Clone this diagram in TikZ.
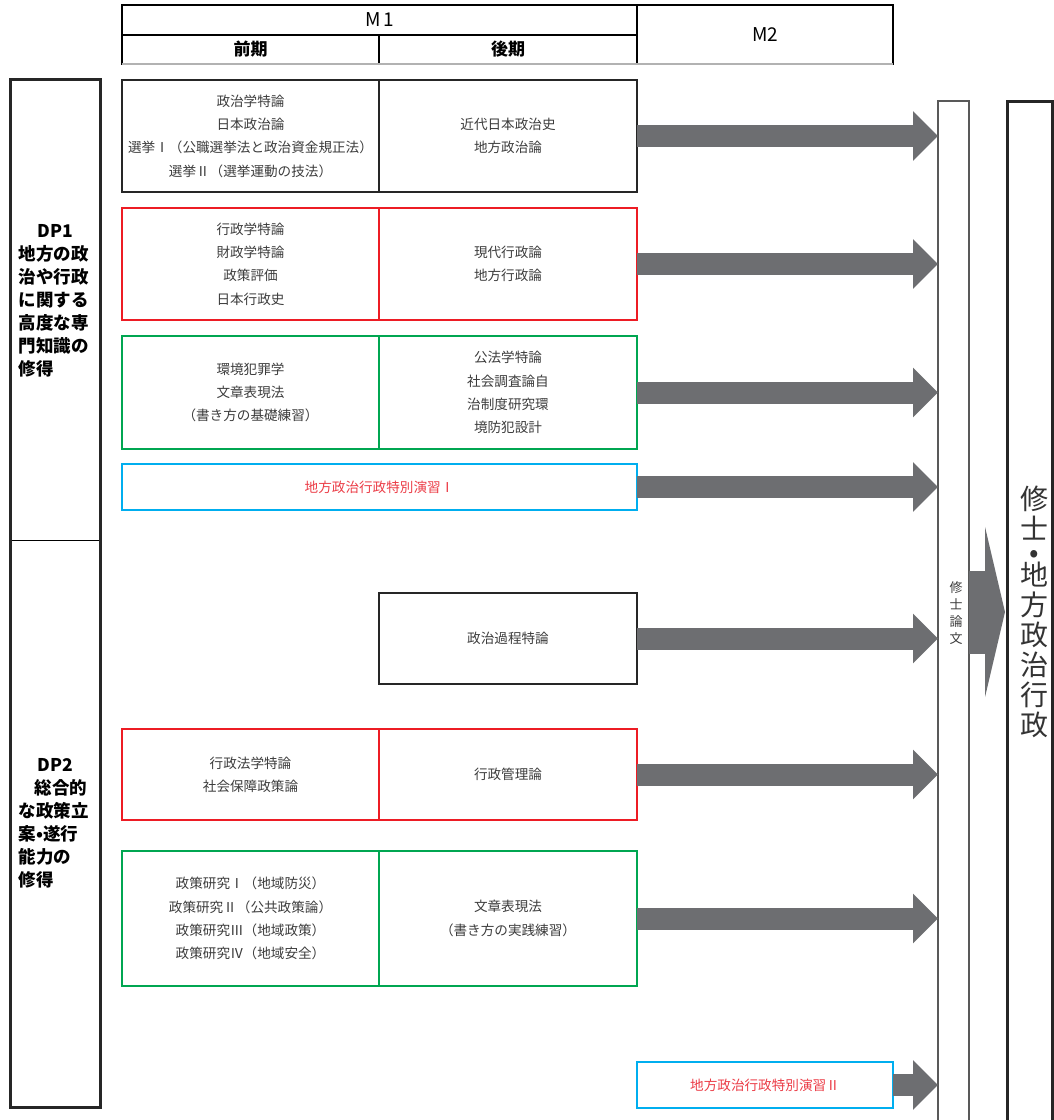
\documentclass[tikz,border=0pt]{standalone}
\usepackage{fontspec}
\setmainfont{Noto Sans CJK JP}
\usetikzlibrary{arrows.meta}
\definecolor{cred}{RGB}{237,28,36}
\definecolor{cgreen}{RGB}{0,166,81}
\definecolor{cblue}{RGB}{0,174,239}
\definecolor{cgray}{RGB}{109,110,113}
\definecolor{ctext}{RGB}{60,60,60}
\definecolor{credtext}{RGB}{235,60,70}
\tikzset{
  cell/.style={draw,line width=2pt,outer sep=0pt,inner sep=0pt,anchor=north west,
    align=center,text=ctext,font=\fontsize{13.6}{23.3}\selectfont},
  head/.style={draw,line width=1.6pt,outer sep=0pt,inner sep=0pt,anchor=north west,
    font=\fontsize{19}{22}\selectfont},
  dpbox/.style={draw,line width=1pt,outer sep=0pt,inner sep=0pt,anchor=north west,minimum width=90pt},
  dptext/.style={align=left,text width=72pt,inner sep=0pt,font=\bfseries\fontsize{17.5}{23}\selectfont},
  flow/.style={cgray,line width=22pt,-{Triangle[length=25pt,width=48pt]}},
}

\begin{document}
\begin{tikzpicture}[x=1pt,y=-1pt]
  \useasboundingbox (0,0) rectangle (1054,1120);
  % header
  \node[head,minimum width=515pt,minimum height=30pt] (m1) at (122,5) {M\hspace{3pt}1};
  \node[head,minimum width=257pt,minimum height=29pt,font=\bfseries\fontsize{17}{20}\selectfont] (early) at (122,35) {前期};
  \node[head,minimum width=258pt,minimum height=29pt,font=\bfseries\fontsize{17}{20}\selectfont] (late) at (379,35) {後期};
  \node[head,minimum width=256pt,minimum height=59pt] (m2) at (637,5) {M2};
  \draw[line width=2.6pt] (m1.north west) -- (m2.north east);
  \draw[black!30,line width=1.6pt] (early.south west) -- (m2.south east);

  % DP column
  \node[dpbox,minimum height=461pt] (dpA) at (10,79) {};
  \node[dpbox,minimum height=567pt] (dpB) at (10,540) {};
  \draw[line width=3pt,black!85] (dpA.north west) rectangle (dpB.south east);
  \node[dptext] (dp1) at (55,301) {\makebox[72pt]{DP1}\\地方の政\\治や行政\\に関する\\高度な専\\門知識の\\修得};
  \node[dptext] (dp2) at (55,823) {\makebox[72pt]{DP2}\\\hspace*{0.9em}総合的\\な政策立\\案•遂行\\能力の\\修得};

  % courses
  \node[cell,draw=black!85,line width=2.4pt,minimum width=257pt,minimum height=112pt] (polA) at (122,80)
    {政治学特論\\日本政治論\\選挙Ⅰ（公職選挙法と政治資金規正法）\\選挙Ⅱ（選挙運動の技法）};
  \node[cell,draw=black!85,line width=2.4pt,minimum width=258pt,minimum height=112pt] (polB) at (379,80)
    {近代日本政治史\\地方政治論};
  \node[cell,draw=cred,minimum width=257pt,minimum height=112pt] (admA) at (122,208)
    {行政学特論\\財政学特論\\政策評価\\日本行政史};
  \node[cell,draw=cred,minimum width=258pt,minimum height=112pt] (admB) at (379,208)
    {現代行政論\\地方行政論};
  \node[cell,draw=cgreen,minimum width=257pt,minimum height=113pt] (envA) at (122,336)
    {環境犯罪学\\文章表現法\\（書き方の基礎練習）};
  \node[cell,draw=cgreen,minimum width=258pt,minimum height=113pt] (envB) at (379,336)
    {公法学特論\\社会調査論自\\治制度研究環\\境防犯設計};
  \node[cell,draw=cblue,text=credtext,minimum width=515pt,minimum height=46pt] (semA) at (122,464)
    {地方政治行政特別演習Ⅰ};
  \node[cell,draw=black!85,minimum width=258pt,minimum height=91pt] (procB) at (379,593)
    {政治過程特論};
  \node[cell,draw=cred,minimum width=257pt,minimum height=91pt] (lawA) at (122,729)
    {行政法学特論\\社会保障政策論};
  \node[cell,draw=cred,minimum width=258pt,minimum height=91pt] (lawB) at (379,729)
    {行政管理論};
  \node[cell,draw=cgreen,minimum width=257pt,minimum height=135pt] (resA) at (122,851)
    {政策研究Ⅰ（地域防災）\\政策研究Ⅱ（公共政策論）\\政策研究Ⅲ（地域政策）\\政策研究Ⅳ（地域安全）};
  \node[cell,draw=cgreen,minimum width=258pt,minimum height=135pt] (resB) at (379,851)
    {文章表現法\\（書き方の実践練習）};
  \node[cell,draw=cblue,text=credtext,minimum width=256pt,minimum height=46pt] (semB) at (637,1062)
    {地方政治行政特別演習Ⅱ};

  % thesis and degree
  \node[draw=black!65,line width=1.2pt,outer sep=0pt,inner sep=0pt,anchor=north west,
    minimum width=31pt,minimum height=1022pt] (thesis) at (938,101) {};
  \node[draw=black!85,line width=3pt,outer sep=0pt,inner sep=0pt,anchor=north west,
    minimum width=45pt,minimum height=1022pt] (degree) at (1007,101) {};
  \node[align=center,text=ctext,font=\fontsize{13}{17}\selectfont] (thesistext) at (956,613) {修\\士\\論\\文};
  \node[align=center,text=black!80,font=\fontsize{28}{30}\selectfont] (degreetext) at (1034,612)
    {修\\士\\[-7pt]•\\[-7pt]地\\方\\政\\治\\行\\政};

  % arrows
  \foreach \c in {polB,admB,envB,semA,procB,lawB,resB,semB}
    \draw[flow] (\c.east) -- (thesis.west |- \c.east);
  \draw[cgray,line width=83pt,-{Triangle[length=20pt,width=170pt]},shorten >=2pt] (thesis.east) -- (degree.west);
\end{tikzpicture}
\end{document}
